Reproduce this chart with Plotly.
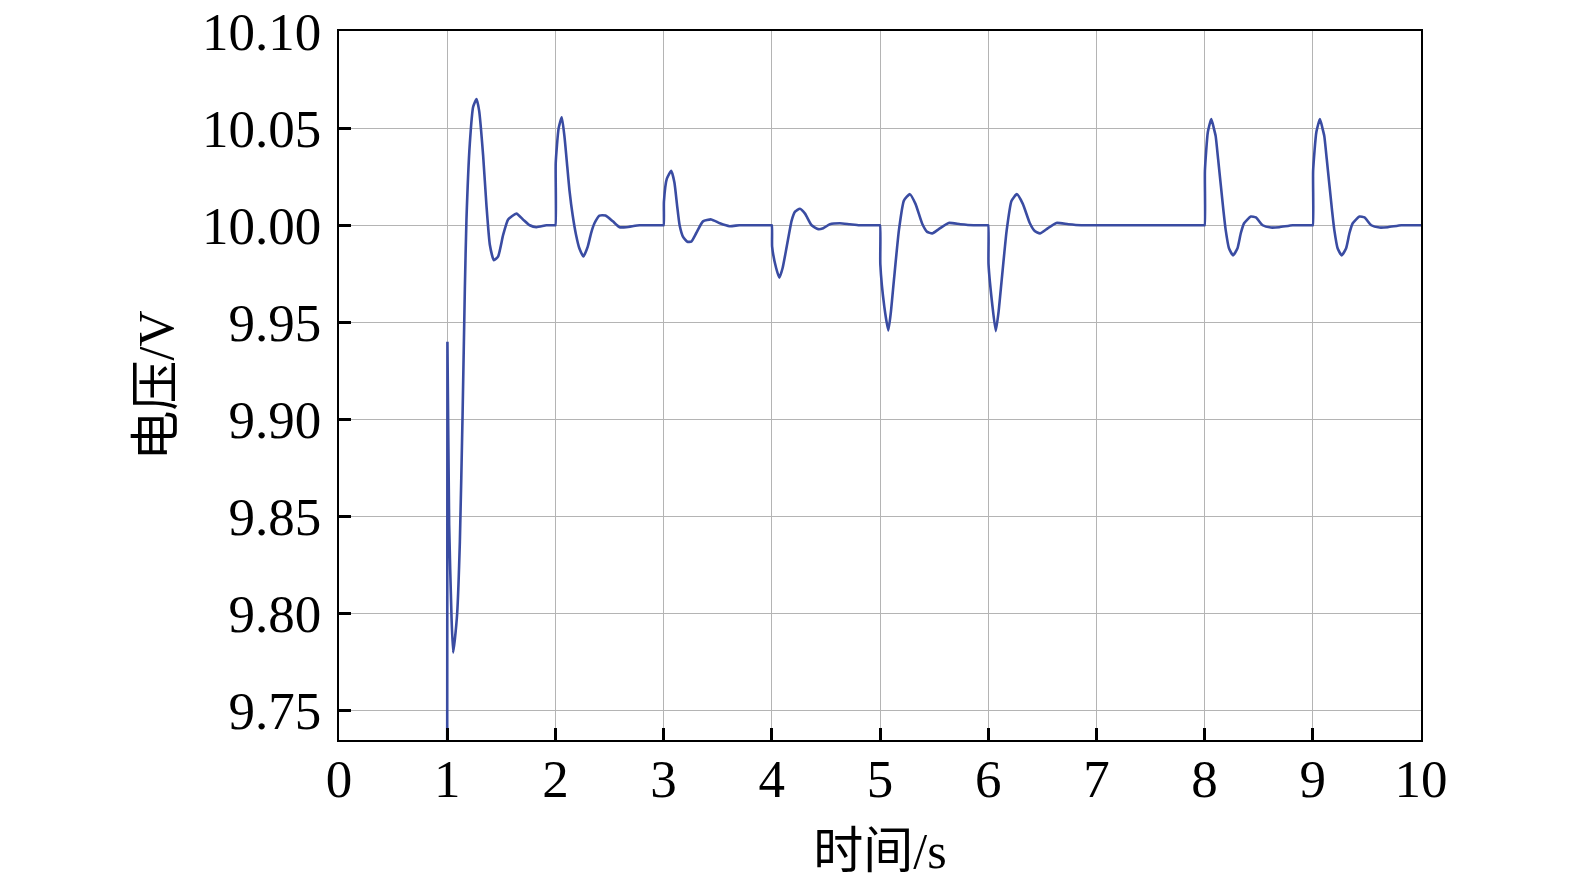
import plotly.graph_objects as go

# Event segments: time (s) and voltage (V)
t_e1 = [1.000, 1.002, 1.018, 1.040, 1.055, 1.071, 1.092, 1.117, 1.142, 1.163, 1.178, 1.209, 1.240, 1.271,
        1.295, 1.332, 1.363, 1.394, 1.431, 1.471, 1.517, 1.563, 1.640, 1.700, 1.763, 1.825, 1.917, 1.990]
v_e1 = [9.730, 9.940, 9.846, 9.798, 9.780, 9.787, 9.800, 9.837, 9.902, 9.967, 10.003, 10.042, 10.061, 10.065,
        10.059, 10.036, 10.010, 9.990, 9.982, 9.984, 9.995, 10.003, 10.006, 10.003, 10.000, 9.999, 10.000, 10.000]

t_e2 = [2.000, 2.003, 2.030, 2.059, 2.085, 2.110, 2.130, 2.160, 2.191, 2.222, 2.259, 2.299, 2.330, 2.361,
        2.407, 2.463, 2.531, 2.593, 2.654, 2.778, 2.900, 2.990]
v_e2 = [10.000, 10.032, 10.050, 10.0556, 10.045, 10.030, 10.018, 10.005, 9.995, 9.988, 9.984, 9.989, 9.996,
        10.001, 10.005, 10.005, 10.002, 9.999, 9.999, 10.000, 10.000, 10.000]

t_e3 = [3.000, 3.003, 3.030, 3.071, 3.100, 3.125, 3.148, 3.180, 3.220, 3.256, 3.302, 3.364, 3.440, 3.520,
        3.610, 3.700, 3.850, 3.990]
v_e3 = [10.000, 10.012, 10.024, 10.028, 10.022, 10.010, 10.000, 9.994, 9.9915, 9.9916, 9.996, 10.002, 10.003,
        10.001, 9.9995, 10.000, 10.000, 10.000]

t_e4 = [4.000, 4.003, 4.040, 4.070, 4.100, 4.138, 4.184, 4.215, 4.260, 4.307, 4.368, 4.430, 4.475, 4.537,
        4.629, 4.720, 4.810, 4.900, 4.990]
v_e4 = [10.000, 9.989, 9.978, 9.973, 9.978, 9.989, 10.0025, 10.007, 10.0085, 10.006, 10.000, 9.998, 9.9985,
        10.0005, 10.001, 10.0005, 10.000, 10.000, 10.000]

t_e5 = [5.000, 5.003, 5.040, 5.077, 5.100, 5.129, 5.175, 5.221, 5.276, 5.328, 5.390, 5.436, 5.482, 5.543,
        5.635, 5.742, 5.865, 5.990]
v_e5 = [10.000, 9.980, 9.958, 9.9458, 9.955, 9.972, 9.9975, 10.0127, 10.016, 10.011, 10.0008, 9.9966, 9.9958,
        9.998, 10.0012, 10.0005, 10.000, 10.000]

t_e6 = [6.000, 6.003, 6.040, 6.070, 6.095, 6.125, 6.170, 6.215, 6.265, 6.320, 6.385, 6.430, 6.478, 6.540,
        6.630, 6.740, 6.860, 7.000, 7.200, 7.400, 7.600, 7.800, 7.900, 7.990]
v_e6 = [10.000, 9.980, 9.958, 9.9455, 9.955, 9.972, 9.997, 10.0125, 10.016, 10.011, 10.001, 9.997, 9.9958,
        9.998, 10.0012, 10.0005, 10.000, 10.000, 10.000, 10.000, 10.000, 10.000, 10.000, 10.000]

t_e8 = [8.000, 8.003, 8.030, 8.062, 8.085, 8.102, 8.125, 8.149, 8.175, 8.195, 8.226, 8.263, 8.303, 8.335,
        8.365, 8.427, 8.474, 8.536, 8.613, 8.690, 8.814, 8.900, 8.990]
v_e8 = [10.000, 10.028, 10.048, 10.0547, 10.050, 10.046, 10.034, 10.021, 10.007, 9.9975, 9.988, 9.9845, 9.988,
        9.996, 10.001, 10.0045, 10.004, 10.000, 9.9988, 9.999, 10.000, 10.000, 10.000]

t_e9 = [9.000, 9.003, 9.033, 9.066, 9.089, 9.106, 9.129, 9.153, 9.179, 9.199, 9.230, 9.267, 9.307, 9.339,
        9.369, 9.431, 9.478, 9.540, 9.617, 9.694, 9.818, 9.900, 10.000]
v_e9 = [10.000, 10.028, 10.048, 10.0547, 10.050, 10.046, 10.034, 10.021, 10.007, 9.9975, 9.988, 9.9845, 9.988,
        9.996, 10.001, 10.0045, 10.004, 10.000, 9.9988, 9.999, 10.000, 10.000, 10.000]

x_ticks = list(range(0, 11))
y_ticks = [9.75, 9.80, 9.85, 9.90, 9.95, 10.00, 10.05, 10.10]

t_all = t_e1 + t_e2 + t_e3 + t_e4 + t_e5 + t_e6 + t_e8 + t_e9
v_all = v_e1 + v_e2 + v_e3 + v_e4 + v_e5 + v_e6 + v_e8 + v_e9

fig = go.Figure()
fig.add_trace(go.Scatter(x=t_all, y=v_all, mode="lines",
                         line=dict(color="#3a4ca2", width=2.6, shape="spline", smoothing=0.5),
                         showlegend=False))

font_main = "Liberation Serif, 'Times New Roman', 'Noto Sans CJK SC', serif"

fig.update_layout(
    width=1575, height=886,
    margin=dict(l=331, r=162, t=23, b=154),
    paper_bgcolor="white", plot_bgcolor="white",
    font=dict(family=font_main, size=53, color="black"),
)
fig.update_xaxes(
    range=[0, 10], tickvals=x_ticks, ticktext=[str(v) for v in x_ticks],
    automargin=False, ticklabelstandoff=-9, ticklabeloverflow="allow",
    showgrid=True, gridcolor="#b4b4b4", gridwidth=1.2,
    showline=True, linecolor="black", linewidth=2.2, mirror=True,
    ticks="inside", ticklen=12, tickwidth=2.5, tickcolor="black",
    tickfont=dict(family=font_main, size=53, color="black"),
    title=dict(text="时间/s", font=dict(family=font_main, size=50, color="black"), standoff=26),
    zeroline=False,
)
fig.update_yaxes(
    range=[9.735, 10.10], tickvals=y_ticks, ticktext=[f"{v:.2f}" for v in y_ticks],
    automargin=False, ticklabelstandoff=5, ticklabeloverflow="allow",
    showgrid=True, gridcolor="#b4b4b4", gridwidth=1.2,
    showline=True, linecolor="black", linewidth=2.2, mirror=True,
    ticks="inside", ticklen=12, tickwidth=2.5, tickcolor="black",
    tickfont=dict(family=font_main, size=53, color="black"),
    title=dict(text="电压/V", font=dict(family=font_main, size=50, color="black"), standoff=13),
    zeroline=False,
)

fig.write_html("out.html")
